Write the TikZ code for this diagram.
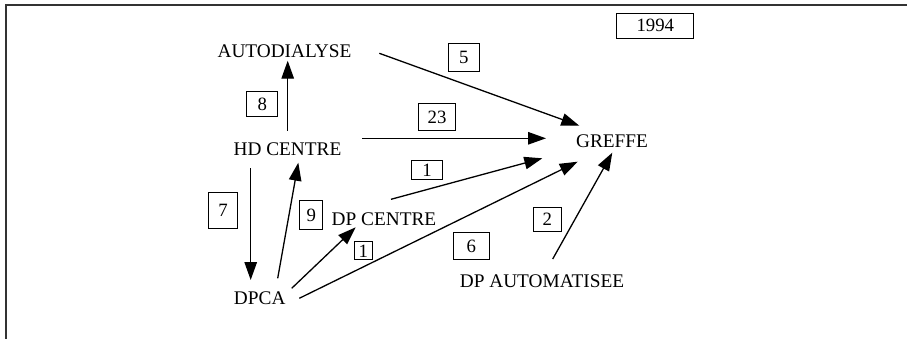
\documentclass[tikz,border=0pt]{standalone}
\usepackage{fontspec}
\setmainfont{Liberation Serif}
\usetikzlibrary{arrows.meta}
\begin{document}
\begin{tikzpicture}[x=1pt,y=-1pt,
  lbl/.style={font=\fontsize{19.3}{21}\selectfont, inner sep=0pt, anchor=center},
  numbox/.style={draw, line width=1pt, font=\fontsize{18.8}{21}\selectfont, inner sep=0pt, anchor=center},
  arr/.style={line width=1.3pt, -{Triangle[length=18pt,width=12.5pt]}},
  frame/.style={line width=1.5pt, draw=black!80}]
\useasboundingbox (0,0) rectangle (907,339);
\draw[frame] (6,339) -- (6,5) -- (907,5);
% main nodes
\node[lbl] (auto) at (284.5,51) {AUTODIALYSE};
\node[lbl] (hd) at (287.5,149) {HD CENTRE};
\node[lbl] (greffe) at (612,141.5) {GREFFE};
\node[lbl] (dpc) at (384,219) {DP CENTRE};
\node[lbl] (dpca) at (259.7,298) {DPCA};
\node[lbl] (dpa) at (542,281) {DP AUTOMATISEE};
% number boxes
\node[numbox, minimum width=77pt, minimum height=25pt] (year) at (655.3,25.8) {1994};
\node[numbox, minimum width=31pt, minimum height=28pt] (n5) at (463.8,57.8) {5};
\node[numbox, minimum width=31pt, minimum height=25pt] (n8) at (262.2,104.2) {8};
\node[numbox, minimum width=37pt, minimum height=27pt] (n23) at (437,117) {23};
\node[numbox, minimum width=31pt, minimum height=19pt] (n1a) at (427,170.3) {1};
\node[numbox, minimum width=29pt, minimum height=36pt] (n7) at (223,210.5) {7};
\node[numbox, minimum width=23pt, minimum height=29pt] (n9) at (311.3,215.3) {9};
\node[numbox, minimum width=18pt, minimum height=18pt] (n1b) at (363.3,250.8) {1};
\node[numbox, minimum width=36pt, minimum height=27pt] (n6) at (471.2,246.3) {6};
\node[numbox, minimum width=28pt, minimum height=24pt] (n2) at (547.2,219.5) {2};
% connectors
\draw[arr] ([shift={(0.2,-18)}]hd.center) -- ([shift={(3.2,9.7)}]auto.center);
\draw[arr] ([shift={(94.8,2.3)}]auto.center) -- ([shift={(-32.7,-15.8)}]greffe.center);
\draw[arr] ([shift={(74.8,-10.7)}]hd.center) -- ([shift={(-66,-3.2)}]greffe.center);
\draw[arr] ([shift={(7,-19.7)}]dpc.center) -- ([shift={(-69.7,16.8)}]greffe.center);
\draw[arr] ([shift={(39.6,0.3)}]dpca.center) -- ([shift={(-34.3,20.2)}]greffe.center);
\draw[arr] ([shift={(10.7,-22)}]dpa.center) -- ([shift={(0.3,11.2)}]greffe.center);
\draw[arr] ([shift={(-36.8,19.3)}]hd.center) -- ([shift={(-9,-18)}]dpca.center);
\draw[arr] ([shift={(18,-19.7)}]dpca.center) -- ([shift={(10.8,13.7)}]hd.center);
\draw[arr] ([shift={(32,-9.7)}]dpca.center) -- ([shift={(-28.3,8.3)}]dpc.center);
\end{tikzpicture}
\end{document}
